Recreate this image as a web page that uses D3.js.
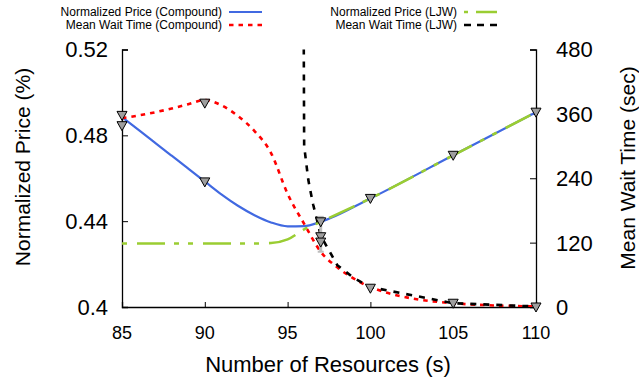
<!DOCTYPE html>
<html>
<head>
<meta charset="utf-8" />
<title>Normalized Price and Mean Wait Time</title>
<script src="https://d3js.org/d3.v7.min.js"></script>
<style>
	body { margin: 0; background: #fff; }
	svg text { font-family: "Liberation Sans", Arial, Helvetica, sans-serif; fill: #000; }
</style>
</head>
<body>
<script>
// --- data ---
var xTicks = [85, 90, 95, 100, 105, 110];
var priceTicks = [0.4, 0.44, 0.48, 0.52];
var waitTicks = [0, 120, 240, 360, 480];

// Normalized Price (Compound)
var priceCompX = [85, 86, 87, 88, 89, 90, 91, 92, 93, 94, 95, 96, 97, 100, 105, 110];
var priceCompY = [0.4885, 0.4825, 0.4765, 0.4705, 0.4645, 0.4585, 0.4525, 0.4472, 0.4428, 0.4394, 0.4376, 0.4377, 0.4397, 0.4506, 0.4707, 0.4908];

// Mean Wait Time (Compound)
var waitCompX = [85, 86, 87, 88, 89, 90, 91, 92, 93, 94, 95, 96, 97, 98, 99, 100, 105, 110];
var waitCompY = [352, 357, 363, 370, 378, 386, 376, 356, 328, 287, 211, 155, 103, 74, 53, 37, 7, 1];

// Normalized Price (LJW)
var priceLjwX = [85, 86, 87, 88, 89, 90, 91, 92, 93, 94, 95, 96, 97, 100, 105, 110];
var priceLjwY = [0.4296, 0.4296, 0.4296, 0.4296, 0.4296, 0.4296, 0.4296, 0.4296, 0.4296, 0.4298, 0.4315, 0.4362, 0.4397, 0.4506, 0.4707, 0.4908];

// Mean Wait Time (LJW)
var waitLjwX = [95.95, 96, 96.25, 96.4, 96.55, 96.7, 97, 98, 99, 100, 105, 110];
var waitLjwY = [700, 300, 237, 213, 190, 172, 133, 78, 54, 37, 7, 1];

// simulation points (triangles)
var simPriceX = [85, 90, 97, 100, 105, 110];
var simPriceY = [0.4893, 0.4583, 0.4397, 0.4506, 0.4707, 0.4908];
var simWaitX = [85, 90, 97, 97, 100, 105, 110];
var simWaitY = [338, 380, 131, 121, 35, 7, 0];
var errX = [97];
var errLow = [103];
var errHigh = [168];

var legendLabels = ["Normalized Price (Compound)", "Mean Wait Time (Compound)", "Normalized Price (LJW)", "Mean Wait Time (LJW)"];

// --- layout ---
var W = 639, H = 385;
var pLeft = 122, pRight = 536, pTop = 49.5, pBottom = 307;

var svg = d3.select("body").append("svg")
	.attr("width", W).attr("height", H)
	.style("display", "block");

var x = d3.scaleLinear().domain([85, 110]).range([pLeft, pRight]);
var yP = d3.scaleLinear().domain([0.4, 0.52]).range([pBottom, pTop]);
var yW = d3.scaleLinear().domain([0, 480]).range([pBottom, pTop]);

svg.append("clipPath").attr("id", "plotclip")
	.append("rect").attr("x", pLeft).attr("y", pTop).attr("width", pRight - pLeft).attr("height", pBottom - pTop);

var zip = function(xs, ys) { return xs.map(function(v, i) { return [v, ys[i]]; }); };

// --- axes ---
var fmtP = function(d) { return String(+d.toFixed(2)); };

var gL = svg.append("g").attr("transform", "translate(" + pLeft + ",0)")
	.call(d3.axisRight(yP).tickValues(priceTicks).tickSize(6).tickFormat(""));
svg.append("g").selectAll("text").data(priceTicks).enter().append("text")
	.attr("x", 108).attr("y", function(d) { return yP(d); })
	.attr("dy", "0.36em").attr("text-anchor", "end")
	.attr("font-size", "22px").text(fmtP);

var gR = svg.append("g").attr("transform", "translate(" + pRight + ",0)")
	.call(d3.axisLeft(yW).tickValues(waitTicks).tickSize(6).tickFormat(""));
svg.append("g").selectAll("text").data(waitTicks).enter().append("text")
	.attr("x", 556).attr("y", function(d) { return yW(d); })
	.attr("dy", "0.36em").attr("text-anchor", "start")
	.attr("font-size", "22px").text(function(d) { return d; });

var gB = svg.append("g").attr("transform", "translate(0," + pBottom + ")")
	.call(d3.axisTop(x).tickValues(xTicks).tickSize(5).tickFormat(""));
svg.append("g").selectAll("text").data(xTicks).enter().append("text")
	.attr("x", function(d) { return x(d); }).attr("y", 339)
	.attr("text-anchor", "middle")
	.attr("font-size", "18px").text(function(d) { return d; });

[gL, gR, gB].forEach(function(g) {
	g.select(".domain").attr("stroke", "#000").attr("stroke-width", 1.3);
	g.selectAll(".tick line").attr("stroke", "#000").attr("stroke-width", 1);
});

// axis titles
svg.append("text").attr("transform", "translate(30,167) rotate(-90)")
	.attr("text-anchor", "middle").attr("font-size", "21px").text("Normalized Price (%)");
svg.append("text").attr("transform", "translate(635,168) rotate(-90)")
	.attr("text-anchor", "middle").attr("font-size", "21px").text("Mean Wait Time (sec)");
svg.append("text").attr("x", 328).attr("y", 372)
	.attr("text-anchor", "middle").attr("font-size", "22px").text("Number of Resources (s)");

// --- lines ---
var plot = svg.append("g").attr("clip-path", "url(#plotclip)");

var lineP = d3.line().x(function(d) { return x(d[0]); }).y(function(d) { return yP(d[1]); }).curve(d3.curveMonotoneX);
var lineW = d3.line().x(function(d) { return x(d[0]); }).y(function(d) { return yW(d[1]); }).curve(d3.curveMonotoneX);
var lineWlin = d3.line().x(function(d) { return x(d[0]); }).y(function(d) { return yW(d[1]); });

var styles = {
	blue: { color: "#4169e1", width: 2.2, dash: null },
	red: { color: "#ff0000", width: 2.6, dash: "4.5,5" },
	green: { color: "#9acd32", width: 2.6, dash: "28,9,5,9,5,10" },
	black: { color: "#000000", width: 2.6, dash: "6,7" }
};

plot.append("path").datum(zip(priceCompX, priceCompY))
	.attr("fill", "none").attr("stroke", styles.blue.color).attr("stroke-width", styles.blue.width)
	.attr("d", lineP);

plot.append("path").datum(zip(waitCompX, waitCompY))
	.attr("fill", "none").attr("stroke", styles.red.color).attr("stroke-width", styles.red.width)
	.attr("stroke-dasharray", styles.red.dash)
	.attr("d", lineW);

plot.append("path").datum(zip(priceLjwX, priceLjwY))
	.attr("fill", "none").attr("stroke", styles.green.color).attr("stroke-width", styles.green.width)
	.attr("stroke-dasharray", styles.green.dash).attr("stroke-dashoffset", 51)
	.attr("d", lineP);

plot.append("path").datum(zip(waitLjwX, waitLjwY))
	.attr("fill", "none").attr("stroke", styles.black.color).attr("stroke-width", styles.black.width)
	.attr("stroke-dasharray", styles.black.dash)
	.attr("d", lineWlin);

// --- error bar + simulation markers ---
var eb = svg.append("g");
errX.forEach(function(v, i) {
	eb.append("line").attr("x1", x(v)).attr("x2", x(v))
		.attr("y1", yW(errLow[i])).attr("y2", yW(errHigh[i]))
		.attr("stroke", "#bdbdbd").attr("stroke-width", 3);
	[errLow[i], errHigh[i]].forEach(function(e) {
		eb.append("line").attr("x1", x(v) - 3).attr("x2", x(v) + 3)
			.attr("y1", yW(e)).attr("y2", yW(e))
			.attr("stroke", "#bdbdbd").attr("stroke-width", 2);
	});
});

var tri = "M-5,-4L5,-4L0,5Z";
var markers = zip(simPriceX, simPriceY).map(function(d) { return [x(d[0]), yP(d[1])]; })
	.concat(zip(simWaitX, simWaitY).map(function(d) { return [x(d[0]), yW(d[1])]; }));
svg.append("g").selectAll("path").data(markers).enter().append("path")
	.attr("d", tri)
	.attr("transform", function(d) { return "translate(" + d[0] + "," + d[1] + ")"; })
	.attr("fill", "#9e9e9e").attr("stroke", "#000").attr("stroke-width", 1);

// --- legend ---
var legend = [
	{ label: legendLabels[0], s: styles.blue, tx: 222, y: 12 },
	{ label: legendLabels[1], s: styles.red, tx: 222, y: 25 },
	{ label: legendLabels[2], s: styles.green, tx: 457, y: 12, dash: "4,8,20,0" },
	{ label: legendLabels[3], s: styles.black, tx: 457, y: 25, dash: "7,6" }
];
var lg = svg.append("g");
legend.forEach(function(l) {
	lg.append("text").attr("x", l.tx).attr("y", l.y).attr("dy", "0.35em")
		.attr("text-anchor", "end").attr("font-size", "12px").text(l.label);
	lg.append("line").attr("x1", l.tx + 7).attr("x2", l.tx + 40)
		.attr("y1", l.y).attr("y2", l.y)
		.attr("stroke", l.s.color).attr("stroke-width", l.s.width)
		.attr("stroke-dasharray", l.dash || l.s.dash);
});
</script>
</body>
</html>
